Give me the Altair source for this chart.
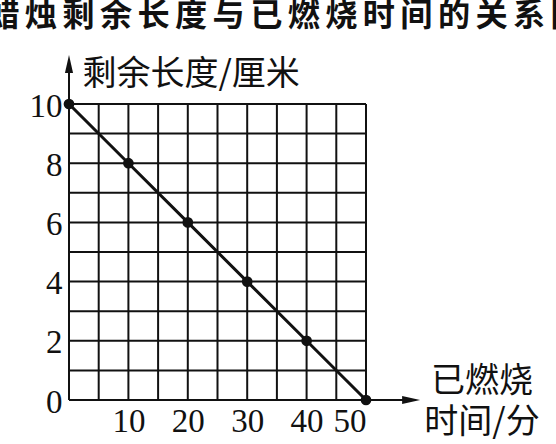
import altair as alt
import pandas as pd

# Candle length vs. burning time
title_text = "蜡烛剩余长度与已燃烧时间的关系图"
y_title = "剩余长度/厘米"
x_title_lines = ["已燃烧", "时间/分"]

minutes = [0, 10, 20, 30, 40, 50]
length_cm = [10, 8, 6, 4, 2, 0]

x_grid = [0, 5, 10, 15, 20, 25, 30, 35, 40, 45, 50]
y_grid = [0, 1, 2, 3, 4, 5, 6, 7, 8, 9, 10]
x_tick_labels = [10, 20, 30, 40, 50]
y_tick_labels = [0, 2, 4, 6, 8, 10]

# axis arrows run past the grid; values are arrowhead centres in data units
x_arrow_at = 57.6
y_arrow_at = 11.35

INK = "#111111"
CJK = "Noto Sans CJK SC"
SERIF = "Liberation Serif"
SIXTH_SPACE = "\u2006"


def spaced(s):
    return SIXTH_SPACE.join(s)


x_scale = alt.Scale(domain=[0, 50], nice=False, zero=False)
y_scale = alt.Scale(domain=[0, 10], nice=False, zero=False)

x_axis = alt.Axis(
    values=x_tick_labels, domain=False, ticks=False, tickSize=0, grid=False,
    labelFont=SERIF, labelFontSize=33, labelColor=INK, labelPadding=5,
    title=x_title_lines, titleFont=CJK, titleFontSize=34,
    titleFontWeight="normal", titleColor=INK, titleAlign="center",
    titleBaseline="middle", titleLineHeight=41, titleX=412.5, titleY=-18.5,
    titleAngle=0,
)
y_axis = alt.Axis(
    values=y_tick_labels, domain=False, ticks=False, tickSize=0, grid=False,
    labelFont=SERIF, labelFontSize=33, labelColor=INK, labelPadding=7,
    labelOffset=2,
    title=y_title, titleFont=CJK, titleFontSize=34,
    titleFontWeight="normal", titleColor=INK, titleAngle=0, titleAlign="left",
    titleBaseline="middle", titleX=13, titleY=-29.5,
)


def X(field):
    return alt.X(field, type="quantitative", scale=x_scale, axis=x_axis)


def Y(field):
    return alt.Y(field, type="quantitative", scale=y_scale, axis=y_axis)


data = pd.DataFrame({"t": minutes, "h": length_cm})

vgrid = alt.Chart(pd.DataFrame({"gx": x_grid})).mark_rule(
    color=INK, strokeWidth=2
).encode(x=X("gx"))

hgrid = alt.Chart(pd.DataFrame({"gy": y_grid})).mark_rule(
    color=INK, strokeWidth=2
).encode(y=Y("gy"))

x_axis_line = alt.Chart(pd.DataFrame({"a": [0], "b": [x_arrow_at], "y": [0]})).mark_rule(
    color=INK, strokeWidth=2
).encode(x=X("a"), x2="b:Q", y=Y("y"))

y_axis_line = alt.Chart(pd.DataFrame({"a": [0], "b": [y_arrow_at], "x": [0]})).mark_rule(
    color=INK, strokeWidth=2
).encode(y=Y("a"), y2="b:Q", x=X("x"))

x_arrow = alt.Chart(pd.DataFrame({"x": [x_arrow_at], "y": [0]})).mark_point(
    shape="M1,0L-1,0.45L-1,-0.45Z", size=324, filled=True, opacity=1, color=INK
).encode(x=X("x"), y=Y("y"))

y_arrow = alt.Chart(pd.DataFrame({"x": [0], "y": [y_arrow_at]})).mark_point(
    shape="M0,-1L0.45,1L-0.45,1Z", size=324, filled=True, opacity=1, color=INK
).encode(x=X("x"), y=Y("y"))

line = alt.Chart(data).mark_line(color=INK, strokeWidth=3).encode(
    x=X("t"), y=Y("h")
)

points = alt.Chart(data).mark_point(
    filled=True, size=115, opacity=1, color=INK
).encode(x=X("t"), y=Y("h"))

title = alt.Chart(pd.DataFrame({"s": [spaced(title_text)]})).mark_text(
    font=CJK, fontSize=32.2, fontWeight="bold", color=INK,
    align="center", baseline="middle"
).encode(text="s:N", x=alt.value(216), y=alt.value(-88))

chart = alt.layer(
    vgrid, hgrid, x_axis_line, y_axis_line, x_arrow, y_arrow, line, points, title
).properties(
    width=297, height=296,
    autosize=alt.AutoSizeParams(type="none"),
    padding={"left": 69, "top": 104, "right": 190, "bottom": 44},
    background="white",
).configure_view(stroke=None)

chart.save("out.html", embed_options={"renderer": "svg", "actions": False})
